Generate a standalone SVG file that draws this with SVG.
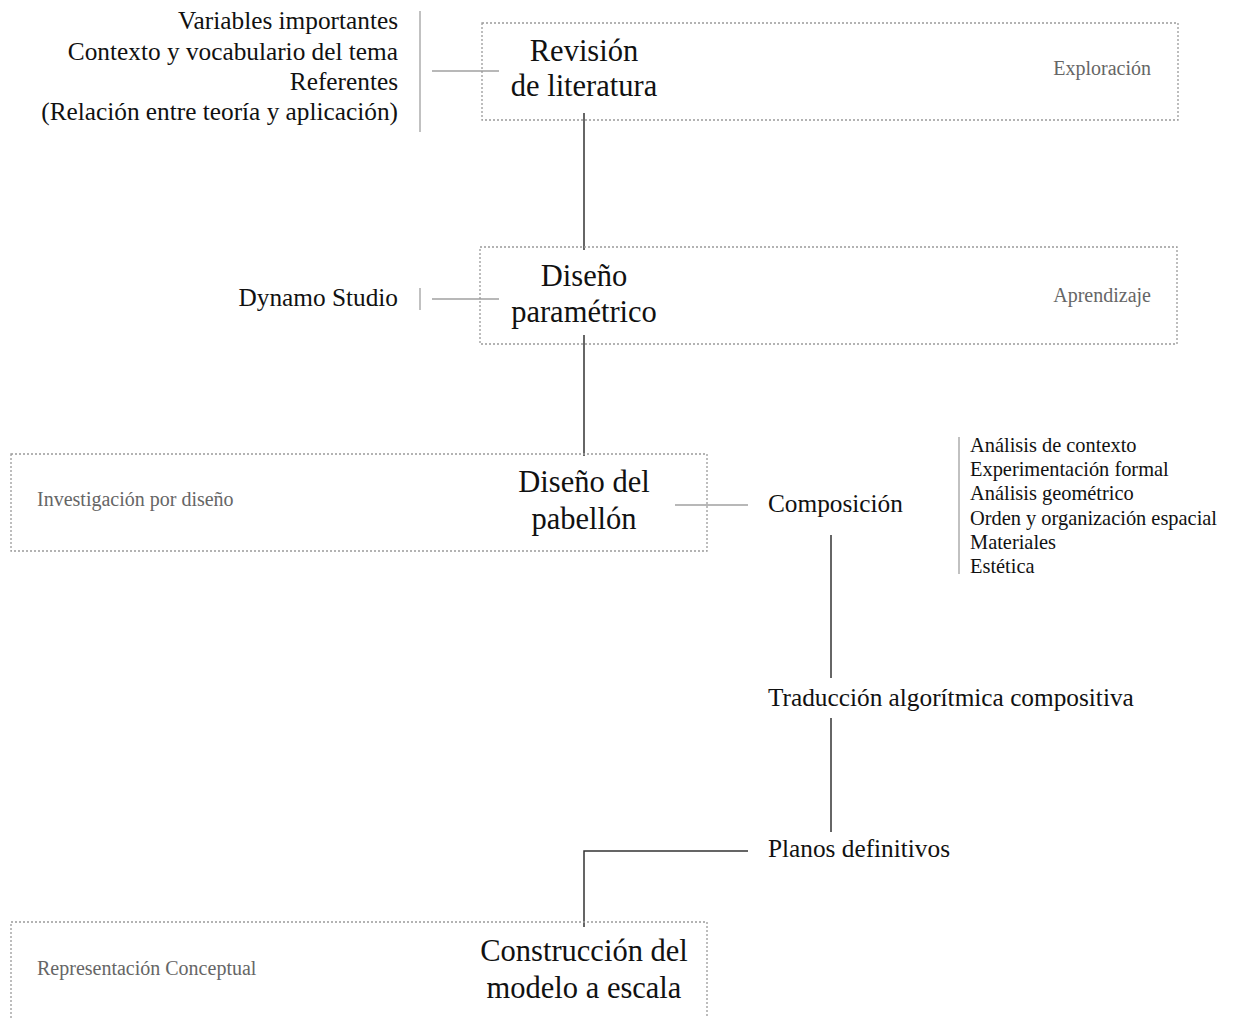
<svg xmlns="http://www.w3.org/2000/svg" width="1233" height="1018" viewBox="0 0 1233 1018">
<style>
text{font-family:"Liberation Serif","Times New Roman",serif;fill:#111}
.box{fill:none;stroke:#9a9a9a;stroke-width:1.3;stroke-dasharray:2 2}
.title{font-size:30.5px;text-anchor:middle}
.phase{font-size:20px;fill:#666}
.item{font-size:25.3px}
.small{font-size:20.4px}
.dark{stroke:#333;stroke-width:1.5;fill:none}
.gray{stroke:#a0a0a0;stroke-width:1.3;fill:none}
</style>
<rect width="1233" height="1018" fill="#fff"/>
<g id="connectors">
<line class="dark" x1="584" y1="113" x2="584" y2="250"/>
<line class="dark" x1="584" y1="335" x2="584" y2="456"/>
<line class="gray" x1="432" y1="71" x2="499" y2="71"/>
<line class="gray" x1="420" y1="11" x2="420" y2="132"/>
<line class="gray" x1="432" y1="299" x2="499" y2="299"/>
<line class="gray" x1="420" y1="288" x2="420" y2="310"/>
<line class="gray" x1="675" y1="505" x2="748" y2="505"/>
<line class="gray" x1="959" y1="437" x2="959" y2="574"/>
<line class="dark" x1="831" y1="535" x2="831" y2="678"/>
<line class="dark" x1="831" y1="718" x2="831" y2="832"/>
<polyline class="dark" points="748,851 584,851 584,927"/>
</g>
<g id="node-revision">
<rect class="box" x="482" y="23" width="696" height="97"/>
<text class="title" x="584" y="61">Revisión</text>
<text class="title" x="584" y="96">de literatura</text>
<text class="phase" x="1151" y="75" text-anchor="end">Exploración</text>
</g>
<g id="node-revision-notes">
<text class="item" x="398" y="29" text-anchor="end">Variables importantes</text>
<text class="item" x="398" y="60" text-anchor="end">Contexto y vocabulario del tema</text>
<text class="item" x="398" y="90" text-anchor="end">Referentes</text>
<text class="item" x="398" y="120" text-anchor="end">(Relación entre teoría y aplicación)</text>
</g>
<g id="node-parametrico">
<rect class="box" x="480" y="247" width="697" height="97"/>
<text class="title" x="584" y="286">Diseño</text>
<text class="title" x="584" y="322">paramétrico</text>
<text class="phase" x="1151" y="302" text-anchor="end">Aprendizaje</text>
</g>
<g id="node-dynamo">
<text class="item" x="398" y="306" text-anchor="end">Dynamo Studio</text>
</g>
<g id="node-pabellon">
<rect class="box" x="11" y="454" width="696" height="97"/>
<text class="title" x="584" y="492">Diseño del</text>
<text class="title" x="584" y="529">pabellón</text>
<text class="phase" x="37" y="506">Investigación por diseño</text>
</g>
<g id="node-composicion">
<text class="item" x="768" y="512">Composición</text>
</g>
<g id="node-composicion-notes">
<text class="small" x="970" y="452">Análisis de contexto</text>
<text class="small" x="970" y="476">Experimentación formal</text>
<text class="small" x="970" y="500">Análisis geométrico</text>
<text class="small" x="970" y="525">Orden y organización espacial</text>
<text class="small" x="970" y="549">Materiales</text>
<text class="small" x="970" y="573">Estética</text>
</g>
<g id="node-traduccion">
<text class="item" x="768" y="706">Traducción algorítmica compositiva</text>
</g>
<g id="node-planos">
<text class="item" x="768" y="857">Planos definitivos</text>
</g>
<g id="node-construccion">
<rect class="box" x="11" y="922" width="696" height="120"/>
<text class="title" x="584" y="961">Construcción del</text>
<text class="title" x="584" y="998">modelo a escala</text>
<text class="phase" x="37" y="975">Representación Conceptual</text>
</g>
</svg>
